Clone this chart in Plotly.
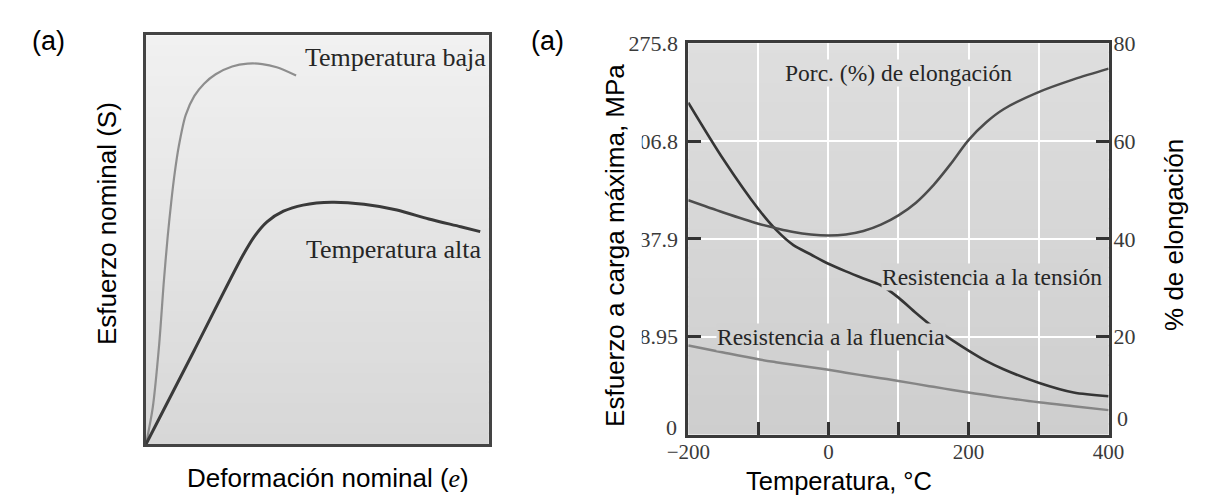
import plotly.graph_objects as go

# ---------------- data ----------------
# Left panel: schematic nominal stress-strain curves (fractions of the frame)
strain_low = [0, 0.0198, 0.0381, 0.0523, 0.0636, 0.0734, 0.0833, 0.0960, 0.1158, 0.1412,
              0.1695, 0.2034, 0.2514, 0.2966, 0.3390, 0.3814, 0.4379]
stress_low = [0, 0.090, 0.240, 0.400, 0.510, 0.590, 0.660, 0.730, 0.805, 0.852,
              0.882, 0.905, 0.924, 0.931, 0.930, 0.922, 0.902]

strain_high = [0, 0.141, 0.282, 0.316, 0.353, 0.401, 0.458, 0.542, 0.636, 0.732, 0.825, 0.918, 0.975]
stress_high = [0, 0.230, 0.461, 0.508, 0.544, 0.570, 0.585, 0.592, 0.587, 0.573, 0.551, 0.532, 0.520]

# Right panel: properties versus temperature
temp_c = [-200, -150, -100, -75, -50, -25, 0, 25, 50, 75, 100, 125, 150, 175, 200, 225, 250, 300, 350, 400]
tensile_mpa = [233.9, 194.0, 158.9, 144.4, 133.5, 126.9, 120.4, 115.0, 110.0, 105.2, 96.5, 85.6,
               75.5, 67.1, 59.2, 51.9, 46.0, 36.5, 29.6, 27.0]
yield_mpa = [62.8, 57.8, 53.0, 51.0, 49.2, 47.4, 45.6, 43.6, 41.6, 39.7, 37.8, 35.7,
             33.6, 31.6, 29.6, 27.8, 26.0, 22.7, 19.9, 17.2]
elongation_pct = [47.9, 45.4, 43.1, 42.2, 41.4, 40.9, 40.7, 40.9, 41.6, 42.9, 44.8, 47.4,
                  51.0, 55.4, 60.2, 63.8, 66.5, 70.0, 72.6, 74.8]

mpa_ticks = [0, 68.95, 137.9, 206.8, 275.8]
mpa_tick_text = ["", "68.95", "137.9", "206.8", "275.8"]   # the zero is placed separately
pct_ticks = [20, 40, 60, 80]
pct_tick_text = ["20", "40", "60", "80"]
temp_ticks = [-200, -100, 0, 100, 200, 300, 400]
temp_tick_text = ["\u2212200", "", "0", "", "200", "", "400"]

# ---------------- page geometry ----------------
W, H = 1205, 496


def px(x):
    return x / W


def py(y):
    return 1 - y / H


SANS = "Liberation Sans, Arial, sans-serif"
SERIF = "Liberation Serif, Times New Roman, serif"
TICK_GREY = "#3a3a3a"

fig = go.Figure()

# left panel curves
fig.add_trace(go.Scatter(x=strain_low, y=stress_low, mode="lines", line_shape="spline",
                         line=dict(color="#8e8e8e", width=2.2, smoothing=0.8), xaxis="x", yaxis="y"))
fig.add_trace(go.Scatter(x=strain_high, y=stress_high, mode="lines", line_shape="spline",
                         line=dict(color="#3a3a3a", width=3, smoothing=0.8), xaxis="x", yaxis="y"))

# right panel curves
fig.add_trace(go.Scatter(x=temp_c, y=yield_mpa, mode="lines", line_shape="spline",
                         line=dict(color="#858585", width=2.5), xaxis="x2", yaxis="y2"))
fig.add_trace(go.Scatter(x=temp_c, y=tensile_mpa, mode="lines", line_shape="spline",
                         line=dict(color="#353535", width=2.6, smoothing=0.8), xaxis="x2", yaxis="y2"))
fig.add_trace(go.Scatter(x=temp_c, y=elongation_pct, mode="lines", line_shape="spline",
                         line=dict(color="#4c4c4c", width=2.5, smoothing=0.9), xaxis="x2", yaxis="y3"))
fig.update_traces(hoverinfo="skip", showlegend=False)

# ---------------- background gradients ----------------
shapes = []


def grey(v):
    v = int(round(v))
    return f"rgb({v},{v},{v})"


def gradient(xref, yref, top, bottom, n=40):
    for i in range(n):
        t = (i + 0.5) / n
        shapes.append(dict(type="rect", xref=xref, yref=yref, x0=0, x1=1,
                           y0=i / n, y1=min(1, (i + 1) / n + 0.004),
                           fillcolor=grey(bottom + (top - bottom) * t),
                           line=dict(width=0), layer="below"))


LEFT_TOP, LEFT_BOTTOM = 241, 215
RIGHT_TOP, RIGHT_BOTTOM = 222, 206
gradient("x domain", "y domain", LEFT_TOP, LEFT_BOTTOM)
gradient("x2 domain", "y2 domain", RIGHT_TOP, RIGHT_BOTTOM)

# white strip behind the left title of the right panel
shapes.append(dict(type="rect", xref="paper", yref="paper",
                   x0=px(588), x1=px(640), y0=py(426), y1=py(46),
                   fillcolor="white", line=dict(width=0), layer="above"))


def right_bg_at(value):
    frac = value / 275.8
    return grey(RIGHT_BOTTOM + (RIGHT_TOP - RIGHT_BOTTOM) * frac)


# ---------------- axes ----------------
box_line = dict(showline=True, mirror=True, linecolor="#444444", linewidth=2.5,
                showgrid=False, zeroline=False, showticklabels=False, ticks="")
fig.update_layout(
    width=W, height=H,
    margin=dict(l=0, r=0, t=0, b=0),
    paper_bgcolor="white", plot_bgcolor="white",
    xaxis=dict(domain=[px(128), px(482)], range=[0, 1], anchor="y", fixedrange=True, **box_line),
    yaxis=dict(domain=[py(443), py(24)], range=[0, 1], anchor="x", fixedrange=True, **box_line),
    xaxis2=dict(domain=[px(688), px(1122)], range=[-200, 400], anchor="y2",
                tickmode="array", tickvals=temp_ticks, ticktext=temp_tick_text,
                ticks="inside", ticklen=13, tickwidth=2.5, tickcolor="#333333",
                showgrid=True, gridcolor="white", gridwidth=2.2, zeroline=False,
                showline=True, mirror=True, linecolor="#3a3a3a", linewidth=3,
                tickfont=dict(family=SERIF, size=21, color=TICK_GREY),
                ticklabelstandoff=-4, fixedrange=True),
    yaxis2=dict(domain=[py(433), py(32)], range=[0, 275.8], anchor="x2",
                tickmode="array", tickvals=mpa_ticks, ticktext=mpa_tick_text,
                ticks="inside", ticklen=13, tickwidth=2.5, tickcolor="#333333",
                showgrid=True, gridcolor="white", gridwidth=2.2, zeroline=False,
                showline=True, mirror=True, linecolor="#3a3a3a", linewidth=3,
                tickfont=dict(family=SERIF, size=22, color=TICK_GREY),
                ticklabelstandoff=3, fixedrange=True),
    yaxis3=dict(overlaying="y2", side="right", anchor="x2", range=[0, 80],
                tickmode="array", tickvals=pct_ticks, ticktext=pct_tick_text,
                ticks="inside", ticklen=13, tickwidth=2.5, tickcolor="#333333",
                showgrid=False, zeroline=False, showline=False,
                tickfont=dict(family=SERIF, size=22, color=TICK_GREY),
                ticklabelstandoff=4, fixedrange=True),
    shapes=shapes,
)

# ---------------- text ----------------
ann = []


def paper_text(text, x, y, size, xanchor="center", angle=0, family=SANS, color="black"):
    ann.append(dict(text=text, x=px(x), y=py(y), xref="paper", yref="paper", showarrow=False,
                    xanchor=xanchor, yanchor="middle", textangle=angle,
                    font=dict(family=family, size=size, color=color)))


# panel tags and axis titles
paper_text("(a)", 8, 30, 27, xanchor="left")
paper_text("(a)", 523, 30, 27, xanchor="left")
paper_text("Esfuerzo nominal (S)", 88, 217, 26, angle=-90)
paper_text("Deformación nominal (<i><span style='font-family:Liberation Serif'>e</span></i>)",
           168, 478, 26, xanchor="left")
paper_text("Esfuerzo a carga máxima, MPa", 613, 239, 26, angle=-90)
paper_text("Temperatura, °C", 745, 481, 25.5, xanchor="left")
paper_text("% de elongación", 1190, 228, 26, angle=-90)

# curve labels, left panel
for label, fx, fy in [("Temperatura baja", 0.458, 0.945), ("Temperatura alta", 0.46, 0.477)]:
    ann.append(dict(text=label, x=fx, y=fy, xref="x", yref="y", showarrow=False,
                    xanchor="left", yanchor="middle",
                    font=dict(family=SERIF, size=26, color="#262626")))

# curve labels, right panel
for label, tx, val, anchor in [("Porc. (%) de elongación", -63, 255, "left"),
                               ("Resistencia a la tensión", 392, 110.7, "right"),
                               ("Resistencia a la fluencia", -160, 68.95, "left")]:
    ann.append(dict(text=label, x=tx, y=val, xref="x2", yref="y2", showarrow=False,
                    xanchor=anchor, yanchor="middle", bgcolor=right_bg_at(val), borderpad=0,
                    font=dict(family=SERIF, size=23.5, color="#262626")))

# zeros of both vertical scales, lifted a little off the bottom corners
ann.append(dict(text="0", x=0, y=0, xref="x2 domain", yref="y2", showarrow=False,
                xanchor="right", yanchor="middle", xshift=-9, yshift=7,
                font=dict(family=SERIF, size=22, color=TICK_GREY)))
ann.append(dict(text="0", x=1, y=0, xref="x2 domain", yref="y3", showarrow=False,
                xanchor="left", yanchor="middle", xshift=6, yshift=16,
                font=dict(family=SERIF, size=22, color=TICK_GREY)))

fig.update_layout(annotations=ann)

fig.write_html("out.html")
